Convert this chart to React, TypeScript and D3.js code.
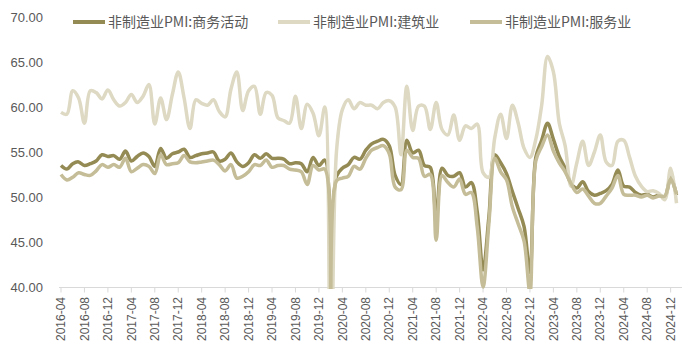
import React from 'react';
import * as d3 from 'd3';

// months 2016-04 .. 2025-01
const months = d3.timeMonth.range(new Date(2016, 3, 1), new Date(2025, 1, 1));

const seriesNames = ['非制造业PMI:商务活动', '非制造业PMI:建筑业', '非制造业PMI:服务业'];

const composite = [
  53.5, 53.1, 53.7, 53.9, 53.5, 53.7, 54.0, 54.7, 54.5,
  54.6, 54.2, 55.1, 54.0, 54.5, 54.9, 54.5, 53.4, 55.4, 54.3, 54.8, 55.0,
  55.3, 54.4, 54.6, 54.8, 54.9, 55.0, 54.0, 54.2, 54.9, 53.9, 53.4, 53.8,
  54.7, 54.3, 54.8, 54.3, 54.3, 54.2, 53.7, 53.8, 53.7, 52.8, 54.4, 53.5,
  54.1, 29.6, 52.3, 53.2, 53.6, 54.4, 54.2, 55.2, 55.9, 56.2, 56.4, 55.7,
  52.4, 51.4, 56.3, 54.9, 55.2, 53.5, 53.3, 47.5, 53.2, 52.4, 52.3, 52.7,
  51.1, 51.6, 48.4, 41.9, 47.8, 54.7, 53.8, 52.6, 50.6, 48.7, 46.7, 41.6,
  54.4, 56.3, 58.2, 56.4, 54.5, 53.2, 51.5, 51.0, 51.7, 50.6, 50.2, 50.4,
  50.7, 51.4, 53.0, 51.2, 51.1, 50.5, 50.2, 50.3, 50.0, 50.2, 50.0, 52.2,
  50.2,
];

const construction = [
  59.4, 59.2, 61.8, 61.0, 58.2, 61.8, 61.6, 60.9, 61.9,
  60.8, 60.1, 60.5, 61.4, 60.5, 61.2, 62.5, 58.1, 61.0, 58.6, 61.4, 63.9,
  61.0, 57.6, 60.8, 60.4, 60.2, 60.8, 59.5, 58.9, 62.0, 63.9, 59.6, 61.8,
  62.3, 59.2, 61.6, 61.3, 58.8, 58.5, 58.2, 61.2, 57.6, 60.3, 59.3, 56.8,
  60.0, 26.6, 55.1, 59.7, 60.8, 59.8, 60.5, 60.2, 60.2, 59.8, 60.5, 60.7,
  60.0, 54.7, 62.3, 57.4, 60.1, 60.1, 57.5, 60.5, 57.5, 56.9, 59.1, 56.3,
  57.9, 57.6, 58.1, 52.7, 52.2, 56.6, 59.2, 56.5, 60.2, 58.2, 55.4, 54.4,
  56.4, 60.2, 65.6, 63.9, 58.2, 55.7, 51.2, 53.8, 56.2, 53.5, 55.0, 56.9,
  53.9, 53.5, 56.2, 56.3, 54.4, 52.3, 51.2, 50.6, 50.7, 50.4, 49.7, 53.2,
  49.3,
];

const services = [
  52.5, 51.9, 52.2, 52.7, 52.5, 52.4, 52.9, 53.6, 53.3,
  53.6, 53.3, 54.3, 52.8, 53.2, 53.6, 53.4, 52.6, 54.7, 53.6, 53.7, 53.8,
  54.6, 53.9, 53.8, 53.9, 54.0, 54.1, 53.6, 52.9, 53.6, 52.1, 52.3, 52.8,
  53.6, 53.5, 54.1, 53.3, 53.5, 53.5, 53.1, 53.0, 52.8, 51.4, 53.5, 53.0,
  53.1, 30.1, 51.8, 52.1, 52.3, 53.4, 53.1, 54.3, 55.2, 55.5, 55.7, 54.8,
  51.1, 50.8, 55.2, 54.4, 54.3, 52.3, 52.5, 45.2, 52.4, 51.6, 51.1, 52.0,
  50.3, 50.5, 46.7, 40.0, 47.1, 54.3, 52.8, 51.9, 48.9, 47.0, 45.1, 39.4,
  54.0, 55.6, 56.9, 55.1, 53.8, 52.8, 51.5, 50.5, 50.9, 50.1, 49.3, 49.3,
  50.1, 51.0, 52.4, 50.3, 50.2, 50.2, 50.0, 50.2, 49.9, 50.1, 50.1, 52.0,
  50.3,
];

const colors = ['#948A54', '#DDD9C3', '#C4BD97'];

const width = 700;
const height = 354;
const axisFont = '"Liberation Sans", Arial, sans-serif';
const cjkFont = '"Noto Sans CJK SC", "Liberation Sans", sans-serif';

export default function App() {
  const x = d3.scaleLinear().domain([0, months.length - 1]).range([61, 676.5]);
  const y = d3.scaleLinear().domain([40, 70]).range([287, 17]);

  // smoothed like the Excel lines, centripetal to keep the covid drop from overshooting
  const line = d3.line<number>()
    .x((d, i) => x(i))
    .y(d => y(d))
    .curve(d3.curveCatmullRom.alpha(0.5));

  const fmtMonth = d3.timeFormat('%Y-%m');
  const tickIdx = months.map((m, i) => i).filter(i => i % 4 === 0);
  const yTicks = y.ticks(6);

  const allSeries = [composite, construction, services];

  const legend = [
    { lx: 73, tx: 108 },
    { lx: 278, tx: 313 },
    { lx: 470, tx: 505 },
  ];

  return (
    <svg width={width} height={height}
      style={{ position: 'absolute', left: 0, top: 0, background: '#fff' }}>
      <defs>
        <clipPath id="plot">
          <rect x={50} y={0} width={640} height={289} />
        </clipPath>
      </defs>

      {/* y labels */}
      {yTicks.map(t => (
        <text key={t} x={43} y={y(t)} dy="0.35em" textAnchor="end"
          fontFamily={axisFont} fontSize={13} fill="#595959">
          {d3.format('.2f')(t)}
        </text>
      ))}

      {/* x axis */}
      <line x1={59} x2={682} y1={287.5} y2={287.5} stroke="#D9D9D9" strokeWidth={1} />
      {tickIdx.map(i => (
        <g key={i}>
          <line x1={x(i)} x2={x(i)} y1={287.5} y2={292.5} stroke="#D9D9D9" strokeWidth={1} />
          <text transform={`translate(${x(i)},297) rotate(-90)`} dy="0.35em" textAnchor="end"
            fontFamily={axisFont} fontSize={12} fill="#595959">
            {fmtMonth(months[i])}
          </text>
        </g>
      ))}

      {/* lines */}
      <g clipPath="url(#plot)">
        {allSeries.map((s, k) => (
          <path key={k} d={line(s) || ''} fill="none" stroke={colors[k]}
            strokeWidth={3.5} strokeLinejoin="round" />
        ))}
      </g>

      {/* legend */}
      {seriesNames.map((name, k) => (
        <g key={name}>
          <line x1={legend[k].lx} x2={legend[k].lx + 32} y1={22} y2={22}
            stroke={colors[k]} strokeWidth={4} />
          <text x={legend[k].tx} y={22} dy="0.35em" fontFamily={cjkFont}
            fontSize={14} fill="#595959">
            {name}
          </text>
        </g>
      ))}
    </svg>
  );
}
